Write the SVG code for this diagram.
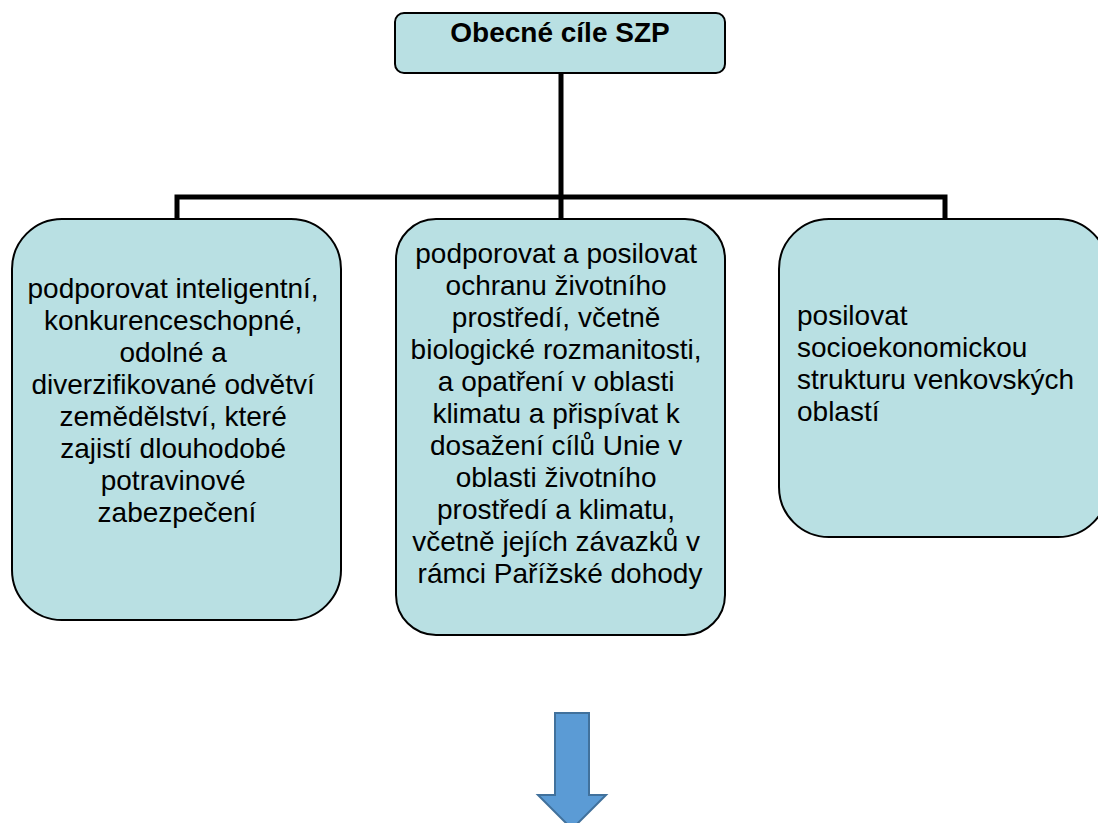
<svg xmlns="http://www.w3.org/2000/svg" width="1098" height="823" viewBox="0 0 1098 823">
<style>
.box{fill:#B9E0E3;stroke:#000;stroke-width:2}
.t{font-family:"Liberation Sans",Arial,sans-serif;font-size:28px;fill:#000}
.c{text-anchor:middle}
.b{font-weight:bold}
.con{fill:none;stroke:#000;stroke-width:5}
</style>
<rect width="1098" height="823" fill="#fff"/>
<g id="connectors">
<path class="con" d="M561,73 V219"/>
<path class="con" d="M177,219 V197 H945 V219"/>
</g>
<g id="top">
<rect class="box" x="395" y="13" width="330" height="60" rx="9"/>
<text class="t b c" x="560" y="42">Obecné cíle SZP</text>
</g>
<g id="left">
<rect class="box" x="12" y="219" width="329" height="401" rx="50"/>
<text class="t c" x="177" y="298">
<tspan x="177" y="298">podporovat inteligentní,</tspan>
<tspan x="177" y="330">konkurenceschopné,</tspan>
<tspan x="177" y="362">odolné a</tspan>
<tspan x="177" y="394">diverzifikované odvětví</tspan>
<tspan x="177" y="426">zemědělství, které</tspan>
<tspan x="177" y="458">zajistí dlouhodobé</tspan>
<tspan x="177" y="490">potravinové</tspan>
<tspan x="177" y="522">zabezpečení</tspan>
</text>
</g>
<g id="middle">
<rect class="box" x="396" y="219" width="329" height="416" rx="40"/>
<text class="t c" x="560" y="263">
<tspan x="560" y="263">podporovat a posilovat</tspan>
<tspan x="560" y="295">ochranu životního</tspan>
<tspan x="560" y="327">prostředí, včetně</tspan>
<tspan x="560" y="359">biologické rozmanitosti,</tspan>
<tspan x="560" y="391">a opatření v oblasti</tspan>
<tspan x="560" y="423">klimatu a přispívat k</tspan>
<tspan x="560" y="455">dosažení cílů Unie v</tspan>
<tspan x="560" y="487">oblasti životního</tspan>
<tspan x="560" y="519">prostředí a klimatu,</tspan>
<tspan x="560" y="551">včetně jejích závazků v</tspan>
<tspan x="560" y="583">rámci Pařížské dohody</tspan>
</text>
</g>
<g id="right">
<rect class="box" x="779" y="219" width="329" height="318" rx="50"/>
<text class="t" x="797" y="325">
<tspan x="797" y="325">posilovat</tspan>
<tspan x="797" y="357">socioekonomickou</tspan>
<tspan x="797" y="389">strukturu venkovských</tspan>
<tspan x="797" y="421">oblastí</tspan>
</text>
</g>
<g id="arrow">
<path d="M555,713 H589 V795 H606 L572,829 L538,795 H555 Z" fill="#5B9BD5" stroke="#41719C" stroke-width="2" stroke-linejoin="miter"/>
</g>
</svg>
